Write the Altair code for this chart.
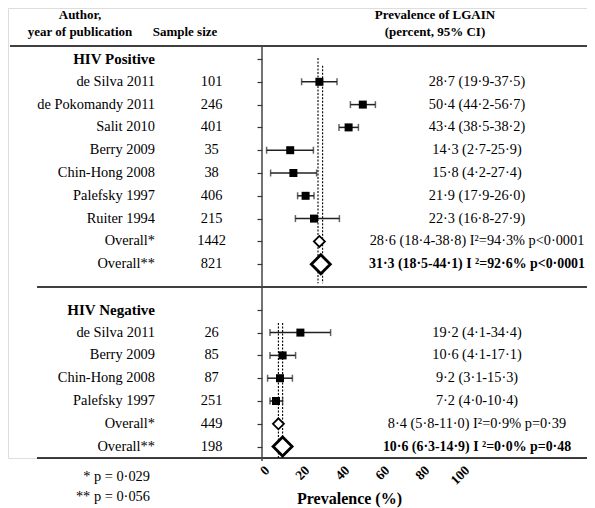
import altair as alt
import pandas as pd

# ---------------- data ----------------
pos_authors = ["de Silva 2011", "de Pokomandy 2011", "Salit 2010", "Berry 2009",
               "Chin-Hong 2008", "Palefsky 1997", "Ruiter 1994"]
pos_n = [101, 246, 401, 35, 38, 406, 215]
pos_est = [28.7, 50.4, 43.3, 14.1, 15.7, 21.8, 26.0]
pos_lo = [19.8, 44.2, 38.5, 2.3, 4.3, 17.8, 16.7]
pos_hi = [37.5, 56.7, 48.2, 25.7, 27.3, 26.0, 38.7]
pos_text = ["28·7 (19·9-37·5)", "50·4 (44·2-56·7)", "43·4 (38·5-38·2)", "14·3 (2·7-25·9)",
            "15·8 (4·2-27·4)", "21·9 (17·9-26·0)", "22·3 (16·8-27·9)"]
pos_overall_n = [1442, 821]
pos_overall_est = [28.7, 29.4]
pos_overall_text = ["28·6 (18·4-38·8) I²=94·3% p<0·0001", "31·3 (18·5-44·1) I ²=92·6% p<0·0001"]
pos_ref_lines = [28.0, 30.3]

neg_authors = ["de Silva 2011", "Berry 2009", "Chin-Hong 2008", "Palefsky 1997"]
neg_n = [26, 85, 87, 251]
neg_est = [19.2, 10.3, 9.0, 7.0]
neg_lo = [4.0, 4.0, 2.8, 4.0]
neg_hi = [34.3, 16.8, 15.2, 10.3]
neg_text = ["19·2 (4·1-34·4)", "10·6 (4·1-17·1)", "9·2 (3·1-15·3)", "7·2 (4·0-10·4)"]
neg_overall_n = [449, 198]
neg_overall_est = [8.2, 10.3]
neg_overall_text = ["8·4 (5·8-11·0) I²=0·9% p=0·39", "10·6 (6·3-14·9) I ²=0·0% p=0·48"]
neg_ref_lines = [8.2, 10.3]

overall_labels = ["Overall*", "Overall**"]
group_labels = ["HIV Positive", "HIV Negative"]
footnotes = ["* p = 0·029", "** p = 0·056"]
x_ticks = [0, 20, 40, 60, 80, 100]

# ---------------- layout constants ----------------
FONT = "Liberation Serif"
W, H = 579, 450
X_DOM = [-127, 162.5]
Y_DOM = [-2.237, 17.5]
AUTH_X, N_X, CI_X = -53.5, -25.2, 107.5
POS_START, NEG_START = 0, 11

# ---------------- build tables ----------------
rows = []
rows.append(dict(row=POS_START, label=group_labels[0], kind="header"))
rows.append(dict(row=NEG_START, label=group_labels[1], kind="header"))
for i, a in enumerate(pos_authors):
    rows.append(dict(row=POS_START + 1 + i, label=a, n=str(pos_n[i]), est=pos_est[i],
                     lo=pos_lo[i], hi=pos_hi[i], txt=pos_text[i], kind="study"))
for j in range(2):
    rows.append(dict(row=POS_START + 1 + len(pos_authors) + j, label=overall_labels[j],
                     n=str(pos_overall_n[j]), est=pos_overall_est[j], txt=pos_overall_text[j],
                     kind="overall%d" % (j + 1)))
for i, a in enumerate(neg_authors):
    rows.append(dict(row=NEG_START + 1 + i, label=a, n=str(neg_n[i]), est=neg_est[i],
                     lo=neg_lo[i], hi=neg_hi[i], txt=neg_text[i], kind="study"))
for j in range(2):
    rows.append(dict(row=NEG_START + 1 + len(neg_authors) + j, label=overall_labels[j],
                     n=str(neg_overall_n[j]), est=neg_overall_est[j], txt=neg_overall_text[j],
                     kind="overall%d" % (j + 1)))
df = pd.DataFrame(rows)
df["ax"] = AUTH_X
df["nx"] = N_X
df["cx"] = CI_X

xs = alt.Scale(domain=X_DOM, nice=False, zero=False)
ys = alt.Scale(domain=Y_DOM, reverse=True, nice=False, zero=False)
tick_rows = [r for r in range(0, 18) if r != 10]

x_axis = alt.Axis(values=x_ticks, labelAngle=-45, labelFont=FONT, labelFontWeight="bold",
                  labelFontSize=13.5, labelColor="black", domain=False, ticks=False, grid=False,
                  labelPadding=5, title="Prevalence  (%)", titleFont=FONT, titleFontSize=16,
                  titleFontWeight="bold", titleColor="black", titleX=341, titleY=40,
                  titleAlign="center", titleBaseline="middle")
y_axis = alt.Axis(values=tick_rows, labels=False, domain=False, ticks=True, tickSize=5,
                  tickColor="#333333", tickWidth=1.2, offset=-254, grid=False, title=None)


def X(field):
    return alt.X(field, type="quantitative", scale=xs, axis=x_axis)


def Y(field):
    return alt.Y(field, type="quantitative", scale=ys, axis=y_axis)


studies = df[df.kind == "study"]
ov1 = df[df.kind == "overall1"]
ov2 = df[df.kind == "overall2"]
headers = df[df.kind == "header"]
body = df[df.kind != "header"]

err = alt.Chart(studies).mark_rule(color="#222222", strokeWidth=1.5).encode(
    x=X("lo"), x2="hi", y=Y("row"))
capL = alt.Chart(studies).mark_tick(color="#222222", orient="vertical", size=7, thickness=1.5).encode(
    x=X("lo"), y=Y("row"))
capR = alt.Chart(studies).mark_tick(color="#222222", orient="vertical", size=7, thickness=1.5).encode(
    x=X("hi"), y=Y("row"))
sq = alt.Chart(studies).mark_square(color="black", size=64, opacity=1).encode(x=X("est"), y=Y("row"))
d1 = alt.Chart(ov1).mark_point(shape="diamond", size=121, fill="white", stroke="black",
                               strokeWidth=1.8, opacity=1, filled=True).encode(x=X("est"), y=Y("row"))
d2 = alt.Chart(ov2).mark_point(shape="diamond", size=361, fill="white", stroke="black",
                               strokeWidth=2.8, opacity=1, filled=True).encode(x=X("est"), y=Y("row"))

ref = pd.DataFrame({
    "x": pos_ref_lines + neg_ref_lines,
    "y1": [-0.04, 0.3, 11.58, 11.58],
    "y2": [9.83, 9.83, 17.5, 17.5],
})
refl = alt.Chart(ref).mark_rule(color="black", strokeWidth=1.1, strokeDash=[2, 1.5]).encode(
    x=X("x"), y=Y("y1"), y2="y2")

hl = pd.DataFrame({"x1": [-126, -112.5, -112.5], "x2": [162.5, 162.5, 162.5], "y": [-0.57, 10.0, 17.5]})
hlines = alt.Chart(hl).mark_rule(color="black", strokeWidth=1.3).encode(x=X("x1"), x2="x2", y=Y("y"))
vl = pd.DataFrame({"x": [0], "y1": [-0.57], "y2": [17.63]})
vline = alt.Chart(vl).mark_rule(color="#444444", strokeWidth=1.5).encode(x=X("x"), y=Y("y1"), y2="y2")

auth = alt.Chart(body).mark_text(font=FONT, fontSize=14.4, align="right", baseline="middle",
                                 color="black").encode(x=X("ax"), y=Y("row"), text="label:N")
hdr = alt.Chart(headers).mark_text(font=FONT, fontSize=15, fontWeight="bold", align="right",
                                   baseline="middle", color="black").encode(x=X("ax"), y=Y("row"), text="label:N")
ncol = alt.Chart(body).mark_text(font=FONT, fontSize=14.4, align="center", baseline="middle",
                                 color="black").encode(x=X("nx"), y=Y("row"), text="n:N")
ci_norm = alt.Chart(df[df.kind.isin(["study", "overall1"])]).mark_text(
    font=FONT, fontSize=14.3, align="center", baseline="middle", color="black").encode(
    x=X("cx"), y=Y("row"), text="txt:N")
ci_bold = alt.Chart(ov2).mark_text(font=FONT, fontSize=13.9, fontWeight="bold", align="center",
                                   baseline="middle", color="black").encode(x=X("cx"), y=Y("row"), text="txt:N")

ch = pd.DataFrame({
    "x": [-91, -91, -38.5, 86.5, 86.5],
    "y": [-1.93, -1.2, -1.2, -1.93, -1.2],
    "t": ["Author,", "year of publication", "Sample size", "Prevalence of LGAIN", "(percent, 95% CI)"],
})
chead = alt.Chart(ch).mark_text(font=FONT, fontSize=13, fontWeight="bold", align="center",
                                baseline="middle", color="black").encode(x=X("x"), y=Y("y"), text="t:N")

fn = pd.DataFrame({"x": [-56, -56], "y": [18.32, 19.19], "t": footnotes})
foot = alt.Chart(fn).mark_text(font=FONT, fontSize=14.4, align="right", baseline="middle",
                               color="black").encode(x=X("x"), y=Y("y"), text="t:N")

chart = alt.layer(hlines, vline, refl, err, capL, capR, sq, d1, d2, auth, hdr, ncol,
                  ci_norm, ci_bold, chead, foot).properties(
    width=W, height=H, autosize=alt.AutoSizeParams(type="none"),
    padding={"left": 0, "top": 0, "right": 0, "bottom": 50}
).configure_view(stroke=None).configure(background="white")

chart.save("out.html", embed_options={"renderer": "svg", "actions": False})
